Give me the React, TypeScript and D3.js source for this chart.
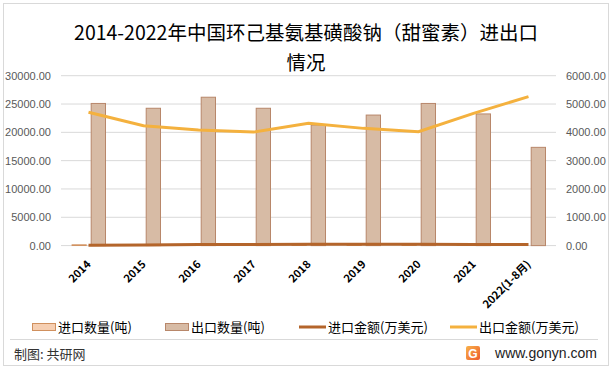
import React from "react";
import * as d3 from "d3";

// categories and values
const years = ["2014", "2015", "2016", "2017", "2018", "2019", "2020", "2021", "2022(1-8月)"];
const importQty = [150, 10, 10, 10, 10, 10, 10, 10, 10]; // 吨
const exportQty = [25100, 24250, 26200, 24250, 21300, 23050, 25100, 23250, 17350]; // 吨
const importAmt = [15, 20, 40, 35, 50, 45, 45, 40, 35]; // 万美元
const exportAmt = [4710, 4230, 4080, 4010, 4320, 4140, 4020, 4670, 5260]; // 万美元

const leftTicks = [0, 5000, 10000, 15000, 20000, 25000, 30000];
const rightTicks = [0, 1000, 2000, 3000, 4000, 5000, 6000];

const title1 = "2014-2022年中国环己基氨基磺酸钠（甜蜜素）进出口";
const title2 = "情况";

const legendItems = [
  { label: "进口数量(吨)", kind: "bar", fill: "#F6CFB2", stroke: "#D0905E", x: 32 },
  { label: "出口数量(吨)", kind: "bar", fill: "#D7BBA5", stroke: "#B8876A", x: 165 },
  { label: "进口金额(万美元)", kind: "line", fill: "#B4652B", stroke: "#B4652B", x: 299 },
  { label: "出口金额(万美元)", kind: "line", fill: "#F4B13E", stroke: "#F4B13E", x: 450 },
];

const W = 613;
const H = 371;
const plot = { left: 61, right: 556, top: 75.7, bottom: 245.6 };
const numFont = "'Liberation Sans', Arial, sans-serif";
const cjkFont = "'Noto Sans CJK SC', 'Liberation Sans', sans-serif";

const App: React.FC = () => {
  const x = d3.scaleBand<string>().domain(years).range([plot.left, plot.right]);
  const sub = d3
    .scaleBand<string>()
    .domain(["imp", "exp"])
    .range([11, 44.5])
    .paddingInner(0.255);
  const yL = d3.scaleLinear().domain([0, 30000]).range([plot.bottom, plot.top]);
  const yR = d3.scaleLinear().domain([0, 6000]).range([plot.bottom, plot.top]);
  const cx = (c: string) => (x(c) || 0) + x.bandwidth() / 2;

  const line = d3
    .line<number>()
    .x((_, i) => cx(years[i]))
    .y((d) => yR(d));

  const fmt = d3.format(".2f");

  return (
    <svg
      width={W}
      height={H}
      style={{ position: "absolute", left: 0, top: 0, background: "#fff" }}
    >
      <rect x={3.5} y={3.5} width={605} height={362} fill="#fff" stroke="#D9D9D9" />

      {/* title */}
      <text x={306} y={40} textAnchor="middle" fontSize={19.5} fontFamily={cjkFont} fill="#000">
        {title1}
      </text>
      <text x={306} y={70} textAnchor="middle" fontSize={19.5} fontFamily={cjkFont} fill="#000">
        {title2}
      </text>

      {/* gridlines */}
      {leftTicks.map((t) => (
        <line
          key={t}
          x1={plot.left}
          x2={plot.right}
          y1={yL(t)}
          y2={yL(t)}
          stroke="#D9D9D9"
          strokeWidth={1}
        />
      ))}

      {/* left axis labels */}
      {leftTicks.map((t) => (
        <text
          key={"l" + t}
          x={51}
          y={yL(t) + 4}
          textAnchor="end"
          fontSize={11}
          fontFamily={numFont}
          fill="#595959"
        >
          {fmt(t)}
        </text>
      ))}

      {/* right axis labels */}
      {rightTicks.map((t) => (
        <text
          key={"r" + t}
          x={566}
          y={yR(t) + 4}
          textAnchor="start"
          fontSize={11}
          fontFamily={numFont}
          fill="#595959"
        >
          {fmt(t)}
        </text>
      ))}

      {/* bars */}
      {years.map((c, i) => {
        const x0 = x(c) || 0;
        return (
          <g key={c}>
            <rect
              x={x0 + (sub("imp") || 0)}
              y={yL(importQty[i])}
              width={sub.bandwidth()}
              height={plot.bottom - yL(importQty[i])}
              fill="#F6CFB2"
              stroke="#D0905E"
              strokeWidth={0.8}
            />
            <rect
              x={x0 + (sub("exp") || 0)}
              y={yL(exportQty[i])}
              width={sub.bandwidth()}
              height={plot.bottom - yL(exportQty[i])}
              fill="#D7BBA5"
              stroke="#B8876A"
              strokeWidth={1}
            />
          </g>
        );
      })}

      {/* lines */}
      <path d={line(importAmt) || ""} fill="none" stroke="#B4652B" strokeWidth={3} />
      <path d={line(exportAmt) || ""} fill="none" stroke="#F4B13E" strokeWidth={3} />

      {/* x labels */}
      {years.map((c) => (
        <text
          key={"x" + c}
          transform={`translate(${cx(c) + 3}, 265) rotate(-45)`}
          textAnchor="end"
          fontSize={11}
          fontWeight="bold"
          fontFamily={cjkFont}
          fill="#000"
        >
          {c}
        </text>
      ))}

      {/* legend */}
      {legendItems.map((it) => (
        <g key={it.label}>
          {it.kind === "bar" ? (
            <rect
              x={it.x + 0.5}
              y={323.5}
              width={23}
              height={7}
              fill={it.fill}
              stroke={it.stroke}
              strokeWidth={1}
            />
          ) : (
            <line x1={it.x} x2={it.x + 27} y1={327} y2={327} stroke={it.stroke} strokeWidth={3} />
          )}
          <text
            x={it.x + (it.kind === "bar" ? 26 : 29)}
            y={332}
            fontSize={13}
            fontFamily={cjkFont}
            fill="#000"
          >
            {it.label}
          </text>
        </g>
      ))}

      {/* footer */}
      <line x1={10} x2={598} y1={339.5} y2={339.5} stroke="#D9D9D9" />
      <text x={14} y={359} fontSize={13} fontFamily={cjkFont} fill="#333">
        制图: 共研网
      </text>
      <defs>
        <linearGradient id="logo" x1="0" y1="0" x2="1" y2="1">
          <stop offset="0%" stopColor="#F8B24A" />
          <stop offset="100%" stopColor="#EE5A2B" />
        </linearGradient>
      </defs>
      <rect x={466} y={346} width={14} height={14} rx={2} fill="url(#logo)" />
      <text x={473} y={357.5} textAnchor="middle" fontSize={12} fontWeight="bold" fontFamily={numFont} fill="#fff">
        G
      </text>
      <text x={597} y={358} textAnchor="end" fontSize={14} fontFamily={numFont} fill="#222">
        www.gonyn.com
      </text>
    </svg>
  );
};

export default App;
